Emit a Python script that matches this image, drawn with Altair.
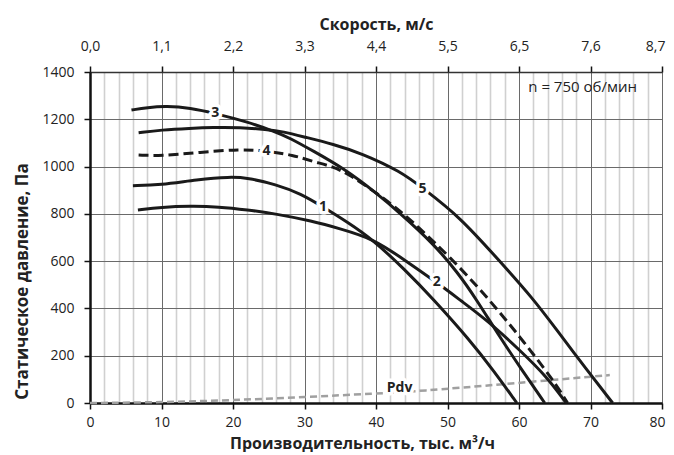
import altair as alt
import pandas as pd

# ---- data ----
q1 = [6.0, 9.8, 15, 19.6, 22, 26, 29.5, 32.6, 36, 39.6, 44, 48, 53, 56.5, 59.7]
p1 = [919, 922, 945, 957, 952, 925, 885, 829, 765, 690, 565, 440, 270, 135, 0]

q2 = [6.7, 10, 14, 18, 22, 26, 31, 35, 39.6, 44, 48.5, 52, 55.5, 60.1, 63.9, 66.6]
p2 = [816, 828, 833, 830, 817, 800, 770, 737, 695, 605, 510, 430, 351, 224, 111, 0]

q3 = [5.8, 8, 10.7, 14, 17.5, 21.9, 25.9, 28, 31.2, 35.4, 40.1, 43.4, 48, 51.5, 54, 57.3, 60.5, 63.6]
p3 = [1239, 1250, 1256, 1248, 1225, 1190, 1148, 1120, 1066, 994, 887, 802, 675, 549, 440, 280, 135, 0]

q4 = [6.8, 9.8, 15.4, 21, 24.7, 28.4, 31.2, 34, 36.4, 40, 43.4, 45.7, 50.3, 55.5, 60.1, 64.8, 66.8]
p4 = [1049, 1045, 1060, 1074, 1066, 1049, 1021, 1000, 964, 890, 812, 750, 619, 450, 281, 97, 0]

q5 = [6.8, 10, 14, 17.2, 21, 24.7, 27, 30, 34, 38, 43.4, 46.5, 51.7, 57.3, 62, 65, 69.5, 73.1]
p5 = [1143, 1155, 1162, 1166, 1166, 1157, 1148, 1125, 1095, 1056, 980, 910, 788, 600, 440, 320, 140, 0]

q_pdv = [0, 10, 20, 30, 40, 46, 58, 72.7]
p_pdv = [0, 3, 12, 25, 40, 50, 80, 118]

label_text = ["1", "2", "3", "4", "5", "Pdv"]
label_q = [32.6, 48.5, 17.5, 24.7, 46.5, 43.3]
label_p = [829, 513, 1225, 1066, 905, 63]

note_text = ["n = 750 об/мин"]
note_q = [61.3]
note_p = [1337]

speed_labels = ["0,0", "1,1", "2,2", "3,3", "4,4", "5,5", "6,5", "7,6", "8,7"]
x_minor = list(range(0, 81, 2))
x_major = list(range(0, 81, 10))
y_ticks = list(range(0, 1401, 200))

# ---- tables ----
def curve_rows(name, qs, ps):
    return [{"curve": name, "q": q, "p": p, "order": i} for i, (q, p) in enumerate(zip(qs, ps))]

df_solid = pd.DataFrame(curve_rows("1", q1, p1) + curve_rows("2", q2, p2)
                        + curve_rows("3", q3, p3) + curve_rows("5", q5, p5))
df_dash = pd.DataFrame(curve_rows("4", q4, p4))
df_pdv = pd.DataFrame(curve_rows("Pdv", q_pdv, p_pdv))
df_lab = pd.DataFrame({"t": label_text, "q": label_q, "p": label_p})
df_note = pd.DataFrame({"t": note_text, "q": note_q, "p": note_p})

FONT = "Open Sans"
LBL = dict(labelFont=FONT, labelFontSize=14, labelColor="#222",
           titleFont=FONT, titleFontWeight="bold", titleColor="#222")
xs = alt.Scale(domain=[0, 80], nice=False, zero=False)
ys = alt.Scale(domain=[0, 1400], nice=False)

is_major = "datum.value % 10 === 0"
is_last = "datum.value === 80"
last_align = {"condition": {"test": is_last, "value": "right"}, "value": "center"}
last_offset = {"condition": {"test": is_last, "value": 3}, "value": 0}

bottom_axis = alt.Axis(
    values=x_minor, orient="bottom",
    grid=True,
    gridColor={"condition": {"test": is_major, "value": "#6a6a6a"}, "value": "#d0d0d0"},
    gridWidth={"condition": {"test": is_major, "value": 1}, "value": 1.6},
    tickOpacity={"condition": {"test": is_major, "value": 1}, "value": 0},
    labelExpr=f"{is_major} ? datum.label : ''",
    labelAlign=last_align, labelOffset=last_offset,
    tickColor="#111", tickSize=6, tickWidth=1.5,
    domainColor="#111", domainWidth=2.5,
    labelPadding=6, labelFlush=False,
    title="Производительность, тыс. м³/ч", titleFontSize=16,
    titleX=272, titleY=40, titleBaseline="middle", titleAlign="center",
    **LBL,
)
speed_js = "[" + ",".join(f"'{s}'" for s in speed_labels) + "]"
top_axis = alt.Axis(
    values=x_major, orient="top", grid=False,
    labelExpr=f"{speed_js}[round(datum.value/10)]",
    labelAlign=last_align, labelOffset=last_offset,
    tickColor="#111", tickSize=6, tickWidth=1.5,
    domainColor="#333", domainWidth=1.5,
    labelPadding=13, labelFlush=False,
    title="Скорость, м/с", titleFontSize=16,
    titleX=286, titleY=-48, titleBaseline="middle", titleAlign="center",
    **LBL,
)
left_axis = alt.Axis(
    values=y_ticks, format="d", grid=True, gridColor="#6a6a6a", gridWidth=1,
    tickColor="#111", tickSize=6, tickWidth=1.5,
    domainColor="#111", domainWidth=2.5,
    labelPadding=10,
    title="Статическое давление, Па", titleFontSize=17,
    titleX=-68, titleY=209, titleBaseline="middle", titleAlign="center", titleAngle=-90,
    **LBL,
)

solid = alt.Chart(df_solid).mark_line(
    color="#1a1a1a", strokeWidth=3, interpolate="basis"
).encode(
    x=alt.X("q:Q", scale=xs, axis=bottom_axis),
    y=alt.Y("p:Q", scale=ys, axis=left_axis),
    detail="curve:N",
    order="order:Q",
)

dashed = alt.Chart(df_dash).mark_line(
    color="#1a1a1a", strokeWidth=3, strokeDash=[10, 5], interpolate="basis"
).encode(
    x=alt.X("q:Q", scale=xs, axis=top_axis),
    y=alt.Y("p:Q", scale=ys, axis=None),
    order="order:Q",
)

pdv = alt.Chart(df_pdv).mark_line(
    color="#a0a0a0", strokeWidth=2.5, strokeDash=[7, 4], interpolate="basis"
).encode(
    x=alt.X("q:Q", scale=xs, axis=None),
    y=alt.Y("p:Q", scale=ys, axis=None),
    order="order:Q",
)

halo = alt.Chart(df_lab).mark_text(
    font=FONT, fontSize=14, fontWeight="bold", color="white",
    stroke="white", strokeWidth=7, strokeJoin="round", baseline="middle", align="center"
).encode(
    x=alt.X("q:Q", scale=xs, axis=None),
    y=alt.Y("p:Q", scale=ys, axis=None),
    text="t:N",
)
labels = alt.Chart(df_lab).mark_text(
    font=FONT, fontSize=14, fontWeight="bold", color="#222", baseline="middle", align="center"
).encode(
    x=alt.X("q:Q", scale=xs, axis=None),
    y=alt.Y("p:Q", scale=ys, axis=None),
    text="t:N",
)
note = alt.Chart(df_note).mark_text(
    font=FONT, fontSize=15, color="#222", baseline="middle", align="left"
).encode(
    x=alt.X("q:Q", scale=xs, axis=None),
    y=alt.Y("p:Q", scale=ys, axis=None),
    text="t:N",
)

chart = alt.layer(pdv, solid, dashed, halo, labels, note).resolve_axis(
    x="independent", y="independent"
).properties(
    width=572, height=331,
    autosize=alt.AutoSizeParams(type="none"),
    padding={"left": 82, "top": 64, "right": 4, "bottom": 49},
).configure_view(strokeWidth=0).configure(background="white")

chart.save("out.html", embed_options={"renderer": "svg", "actions": False})
